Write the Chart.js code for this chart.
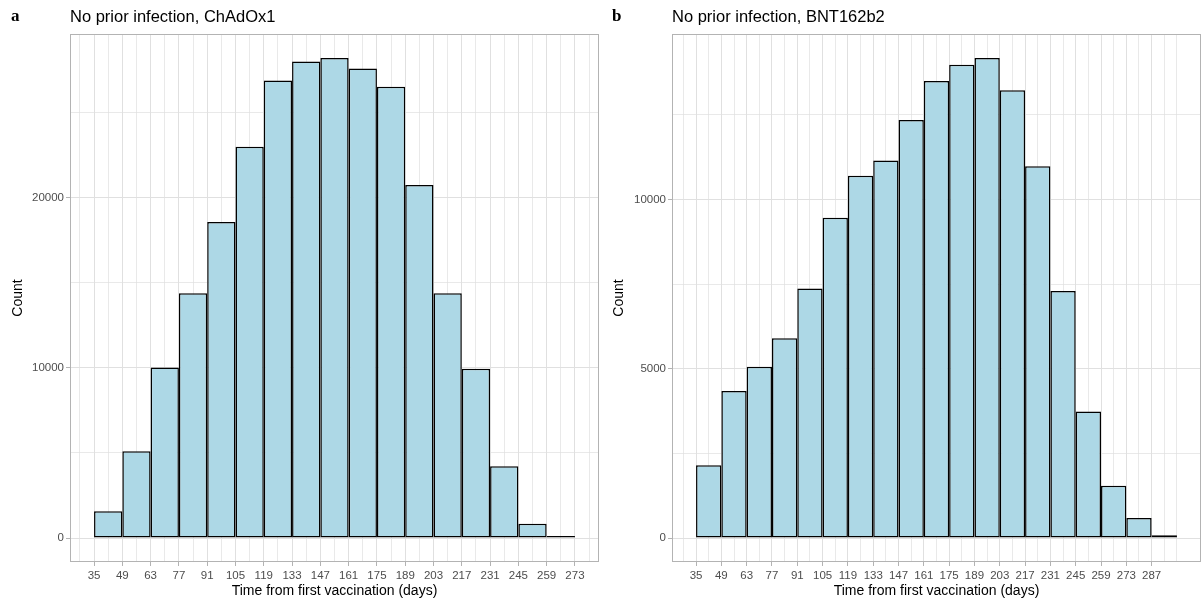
<!DOCTYPE html>
<html>
<head>
<meta charset="utf-8">
<script src="https://cdn.jsdelivr.net/npm/chart.js@4.4.1/dist/chart.umd.min.js"></script>
<style>
  body { margin: 0; background: #fff; }
  .panel { position: absolute; top: 0; }
</style>
</head>
<body>
<div class="panel" style="left:0"><canvas id="panelA" width="601" height="603"></canvas></div>
<div class="panel" style="left:601px"><canvas id="panelB" width="602" height="603"></canvas></div>
<script>
// bin width in days, bins start at the tick values
const binWidth = 14;

// panel a: ChAdOx1
const binStartsA = [35, 49, 63, 77, 91, 105, 119, 133, 147, 161, 175, 189, 203, 217, 231, 245, 259];
const countsA = [1570, 5090, 10010, 14370, 18550, 22970, 26860, 27970, 28180, 27560, 26490, 20720, 14370, 9940, 4210, 840, 50];
const xTicksA = [35, 49, 63, 77, 91, 105, 119, 133, 147, 161, 175, 189, 203, 217, 231, 245, 259, 273];
const yTicksA = [0, 10000, 20000];

// panel b: BNT162b2
const binStartsB = [35, 49, 63, 77, 91, 105, 119, 133, 147, 161, 175, 189, 203, 217, 231, 245, 259, 273, 287];
const countsB = [2150, 4340, 5060, 5900, 7370, 9460, 10700, 11150, 12350, 13500, 13980, 14180, 13230, 10980, 7300, 3740, 1540, 590, 80];
const xTicksB = [35, 49, 63, 77, 91, 105, 119, 133, 147, 161, 175, 189, 203, 217, 231, 245, 259, 273, 287];
const yTicksB = [0, 5000, 10000];

const gridCol = "#E0E0E0";
const tickFont = { family: "Liberation Sans, Arial, sans-serif", size: 11.5 };
const titleFont = { family: "Liberation Sans, Arial, sans-serif", size: 14 };

// panel box + letter + title
const panelDeco = {
  id: "panelDeco",
  afterDraw(chart, args, opts) {
    const { ctx, chartArea } = chart;
    ctx.save();
    ctx.strokeStyle = "#B3B3B3";
    ctx.lineWidth = 1;
    ctx.strokeRect(chartArea.left + 0.5, chartArea.top + 0.5,
      chartArea.right - chartArea.left - 1, chartArea.bottom - chartArea.top - 1);
    ctx.fillStyle = "#000";
    ctx.textBaseline = "middle";
    ctx.font = "bold 17px 'Liberation Serif', 'Times New Roman', serif";
    ctx.fillText(opts.letter, 11, 17);
    ctx.font = "16.5px 'Liberation Sans', Arial, sans-serif";
    ctx.fillText(opts.title, chartArea.left, 17);
    ctx.restore();
  }
};

function makePanel(id, letter, title, starts, counts, xTicks, yTicks, axisW) {
  const xMin = starts[0];
  const xMax = starts[starts.length - 1] + binWidth;
  const xPad = (xMax - xMin) * 0.05;
  const yTop = Math.max(...counts);
  const yStep = yTicks[1] - yTicks[0];
  const isMajX = (c) => c.tick && xTicks.includes(c.tick.value);
  const isMajY = (c) => c.tick && c.tick.value % yStep === 0;

  return new Chart(document.getElementById(id), {
    type: "bar",
    data: {
      datasets: [{
        data: starts.map((s, i) => ({ x: s + binWidth / 2, y: counts[i] })),
        backgroundColor: "#ADD8E6",
        borderColor: "#000",
        borderWidth: 1.5,
        borderSkipped: false,
        minBarLength: 2,
        // x ticks sit every half bin (minor grid), so a full bin is 2x the tick step
        barPercentage: 2,
        categoryPercentage: 1
      }]
    },
    options: {
      responsive: false,
      animation: false,
      layout: { padding: { top: 34, right: 2, bottom: 0, left: 0 } },
      plugins: {
        legend: { display: false },
        tooltip: { enabled: false },
        panelDeco: { letter: letter, title: title }
      },
      scales: {
        x: {
          type: "linear",
          offset: false,
          min: xMin - xPad,
          max: xMax + xPad,
          afterBuildTicks: (s) => {
            const t = [];
            for (let v = xTicks[0] - binWidth; v <= xTicks[xTicks.length - 1] + binWidth; v += binWidth / 2) {
              if (v >= s.min && v <= s.max) t.push({ value: v });
            }
            s.ticks = t;
          },
          afterFit: (s) => { s.height = 41; },
          grid: {
            offset: false,
            color: gridCol,
            lineWidth: (c) => isMajX(c) ? 1 : 0.7,
            tickColor: (c) => isMajX(c) ? "#B3B3B3" : "rgba(0,0,0,0)",
            tickLength: 4
          },
          border: { display: false },
          ticks: {
            autoSkip: false,
            maxRotation: 0,
            padding: 3,
            color: "#4D4D4D",
            font: tickFont,
            callback: (v) => xTicks.includes(v) ? String(v) : ""
          },
          title: {
            display: true,
            text: "Time from first vaccination (days)",
            color: "#000",
            font: titleFont,
            padding: { top: 0, bottom: 3.5 }
          }
        },
        y: {
          min: -yTop * 0.05,
          max: yTop * 1.05,
          afterBuildTicks: (s) => {
            const t = [];
            for (let v = 0; v <= s.max; v += yStep / 2) t.push({ value: v });
            s.ticks = t;
          },
          afterFit: (s) => { s.width = axisW; },
          grid: {
            color: gridCol,
            lineWidth: (c) => isMajY(c) ? 1 : 0.7,
            tickColor: (c) => isMajY(c) ? "#B3B3B3" : "rgba(0,0,0,0)",
            tickLength: 4
          },
          border: { display: false },
          ticks: {
            padding: 2,
            color: "#4D4D4D",
            font: tickFont,
            callback: (v) => v % yStep === 0 ? String(v) : ""
          },
          title: {
            display: true,
            text: "Count",
            color: "#000",
            font: titleFont,
            padding: { top: 9.5, bottom: 0 }
          }
        }
      }
    },
    plugins: [panelDeco]
  });
}

makePanel("panelA", "a", "No prior infection, ChAdOx1", binStartsA, countsA, xTicksA, yTicksA, 70);
makePanel("panelB", "b", "No prior infection, BNT162b2", binStartsB, countsB, xTicksB, yTicksB, 71);
</script>
</body>
</html>
